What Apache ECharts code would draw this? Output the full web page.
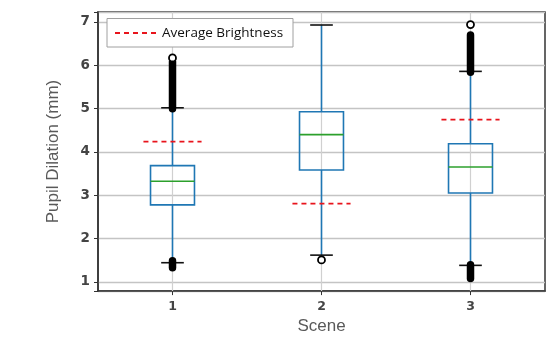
<!DOCTYPE html>
<html>
<head>
<meta charset="utf-8">
<script src="https://cdn.jsdelivr.net/npm/echarts@6/dist/echarts.min.js"></script>
<style>html,body{margin:0;padding:0;background:#fff}#c{width:550px;height:340px}</style>
</head>
<body>
<div id="c"></div>
<script>
// ---- data ----
const scenes = ['1', '2', '3'];
// [lower whisker, Q1, median, Q3, upper whisker]
const scene1Box = [1.445, 2.78, 3.325, 3.686, 5.02];
const scene2Box = [1.62, 3.585, 4.40, 4.93, 6.93];
const scene3Box = [1.384, 3.055, 3.654, 4.19, 5.86];
// dense outlier ranges [from, to] per scene (drawn as solid bands)
const scene1OutlierBands = [[5.0, 6.08], [1.33, 1.49]];
const scene2OutlierBands = [];
const scene3OutlierBands = [[5.84, 6.70], [1.08, 1.40]];
// isolated outliers (open circles)
const scene1Outliers = [6.17];
const scene2Outliers = [1.51];
const scene3Outliers = [6.94];
// average brightness per scene
const avgBrightness = [4.24, 2.81, 4.745];
const yTicks = [1, 2, 3, 4, 5, 6, 7];
const yMin = 0.79, yMax = 7.23;

const boxes = [scene1Box, scene2Box, scene3Box];
const bands = [scene1OutlierBands, scene2OutlierBands, scene3OutlierBands];
const outs = [scene1Outliers, scene2Outliers, scene3Outliers];

const boxData = boxes.map((b, i) => [i].concat(b));
const bandData = [];
bands.forEach((arr, i) => arr.forEach(r => bandData.push([i, r[0], r[1]])));
const outData = [];
outs.forEach((arr, i) => arr.forEach(v => outData.push([i, v])));
const avgData = avgBrightness.map((v, i) => [i, v]);
const gridData = scenes.map((s, i) => [i, yMin, yMax]);

const BLUE = '#1f77b4', GREEN = '#2ca02c', RED = '#e8141c';

const chart = echarts.init(document.getElementById('c'), null, {renderer: 'canvas'});
chart.setOption({
  animation: false,
  backgroundColor: '#fff',
  grid: {left: 98, right: 5, top: 12, bottom: 48, show: true, borderColor: '#333', borderWidth: 1.5, backgroundColor: '#fff'},
  xAxis: {
    type: 'category', data: scenes, boundaryGap: true,
    name: 'Scene', nameLocation: 'middle', nameGap: 25,
    nameTextStyle: {fontSize: 17, color: '#595959', fontFamily: 'Liberation Sans'},
    axisLine: {show: true, lineStyle: {color: '#333', width: 1.5}},
    axisTick: {show: true, alignWithLabel: true, length: 4, lineStyle: {color: '#333'}},
    axisLabel: {fontSize: 12.5, fontWeight: 'bold', color: '#444', margin: 9, fontFamily: 'DejaVu Sans'},
    splitLine: {show: false}
  },
  yAxis: {
    type: 'value', min: yMin, max: yMax,
    name: 'Pupil Dilation (mm)', nameLocation: 'middle', nameGap: 36,
    nameTextStyle: {fontSize: 17, color: '#595959', fontFamily: 'Liberation Sans'},
    axisLine: {show: true, lineStyle: {color: '#333', width: 1.5}},
    axisTick: {show: true, length: 4, lineStyle: {color: '#333'}},
    axisLabel: {
      fontSize: 13.5, fontWeight: 'bold', color: '#444', margin: 8, fontFamily: 'DejaVu Sans',
      formatter: v => { const r = Math.round(v); return (Math.abs(v - r) < 1e-6 && yTicks.includes(r)) ? String(r) : ''; }
    },
    splitLine: {show: true, lineStyle: {color: '#c4c4c4', width: 1.3}}
  },
  series: [
    {
      type: 'custom', name: 'vgrid', z: 1, silent: true,
      data: gridData, encode: {x: 0, y: [1, 2]},
      renderItem: (params, api) => {
        const a = api.coord([api.value(0), api.value(1)]);
        const b = api.coord([api.value(0), api.value(2)]);
        return {type: 'line', shape: {x1: a[0], y1: a[1], x2: b[0], y2: b[1]}, style: {stroke: '#d0d0d0', lineWidth: 1.2}};
      }
    },
    {
      type: 'custom', name: 'box', z: 3, silent: true,
      data: boxData, encode: {x: 0, y: [1, 2, 3, 4, 5]},
      renderItem: (params, api) => {
        const x = api.value(0);
        const bw = api.size([1, 0])[0];
        const half = bw * 0.295 / 2, capHalf = bw * 0.152 / 2;
        const p = [1, 2, 3, 4, 5].map(k => api.coord([x, api.value(k)]));
        const cx = p[0][0];
        return {type: 'group', children: [
          {type: 'line', shape: {x1: cx, y1: p[0][1], x2: cx, y2: p[1][1]}, style: {stroke: BLUE, lineWidth: 1.6}},
          {type: 'line', shape: {x1: cx, y1: p[3][1], x2: cx, y2: p[4][1]}, style: {stroke: BLUE, lineWidth: 1.6}},
          {type: 'rect', shape: {x: cx - half, y: p[3][1], width: half * 2, height: p[1][1] - p[3][1]}, style: {stroke: BLUE, fill: null, lineWidth: 1.6}},
          {type: 'line', shape: {x1: cx - half, y1: p[2][1], x2: cx + half, y2: p[2][1]}, style: {stroke: GREEN, lineWidth: 1.6}},
          {type: 'line', shape: {x1: cx - capHalf, y1: p[0][1], x2: cx + capHalf, y2: p[0][1]}, style: {stroke: '#111', lineWidth: 1.6}},
          {type: 'line', shape: {x1: cx - capHalf, y1: p[4][1], x2: cx + capHalf, y2: p[4][1]}, style: {stroke: '#111', lineWidth: 1.6}}
        ]};
      }
    },
    {
      type: 'custom', name: 'outlierBands', z: 4, silent: true,
      data: bandData, encode: {x: 0, y: [1, 2]},
      renderItem: (params, api) => {
        const a = api.coord([api.value(0), api.value(1)]);
        const b = api.coord([api.value(0), api.value(2)]);
        return {type: 'line', shape: {x1: a[0], y1: a[1], x2: b[0], y2: b[1]}, style: {stroke: '#000', lineWidth: 7.5, lineCap: 'round'}};
      }
    },
    {
      type: 'scatter', name: 'outliers', z: 5, silent: true,
      data: outData, symbol: 'circle', symbolSize: 7,
      itemStyle: {color: '#fff', borderColor: '#000', borderWidth: 1.8, opacity: 1}
    },
    {
      type: 'custom', name: 'Average Brightness', z: 6, silent: true,
      data: avgData, encode: {x: 0, y: 1},
      renderItem: (params, api) => {
        const bw = api.size([1, 0])[0];
        const half = bw * 0.39 / 2;
        const p = api.coord([api.value(0), api.value(1)]);
        return {type: 'line', shape: {x1: p[0] - half, y1: p[1], x2: p[0] + half, y2: p[1]}, style: {stroke: RED, lineWidth: 1.8, lineDash: [5, 4]}};
      }
    }
  ],
  graphic: [
    {type: 'rect', z: 100, shape: {x: 107, y: 18.5, width: 186, height: 28.5}, style: {fill: '#fff', stroke: '#a0a0a0', lineWidth: 1}},
    {type: 'line', z: 101, shape: {x1: 115, y1: 33, x2: 157, y2: 33}, style: {stroke: RED, lineWidth: 1.8, lineDash: [5, 4]}},
    {type: 'text', z: 101, x: 162, y: 33, style: {text: 'Average Brightness', fontSize: 13.5, fontFamily: 'Open Sans', fill: '#111', verticalAlign: 'middle', align: 'left'}}
  ]
});
</script>
</body>
</html>
